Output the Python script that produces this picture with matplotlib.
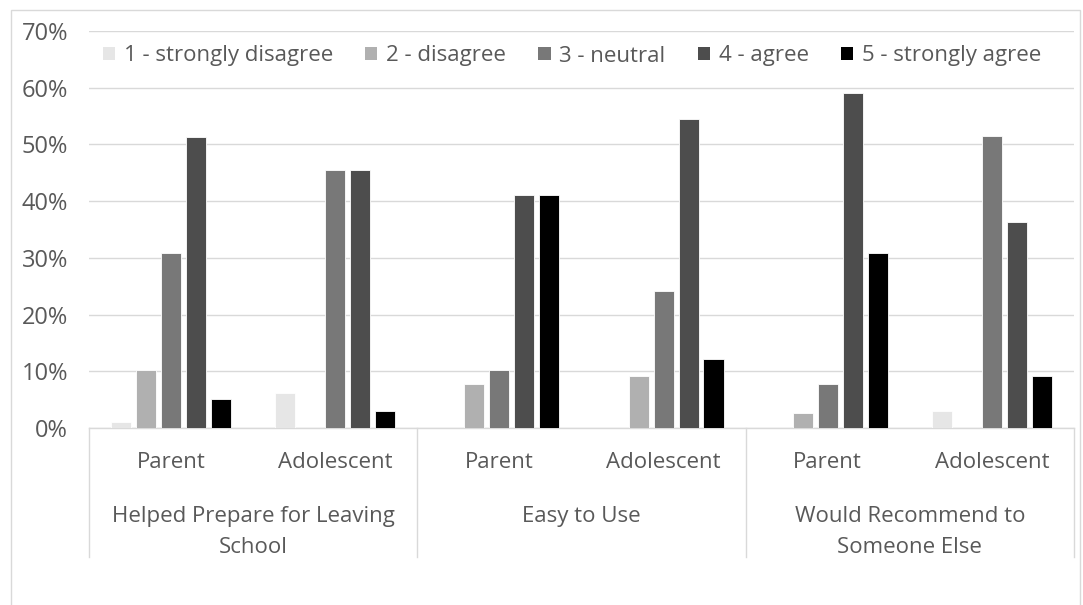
import matplotlib
matplotlib.use("Agg")
import matplotlib.pyplot as plt
from matplotlib.patches import Patch, Rectangle
from matplotlib.lines import Line2D
import numpy as np

plt.rcParams['font.family'] = ['Open Sans', 'DejaVu Sans']

groups = ["Helped Prepare for Leaving\nSchool", "Easy to Use", "Would Recommend to\nSomeone Else"]
respondents = ["Parent", "Adolescent"]
levels = ["1 - strongly disagree", "2 - disagree", "3 - neutral", "4 - agree", "5 - strongly agree"]
colors = ["#e6e6e6", "#b0b0b0", "#787878", "#4d4d4d", "#000000"]

# percentage per response level, ordered as
# (Helped: Parent, Adolescent), (Easy: Parent, Adolescent), (Recommend: Parent, Adolescent)
strongly_disagree = [1.0, 6.1, 0.0, 0.0, 0.0, 3.0]
disagree = [10.3, 0.0, 7.7, 9.1, 2.6, 0.0]
neutral = [30.8, 45.5, 10.3, 24.2, 7.7, 51.5]
agree = [51.3, 45.5, 41.0, 54.5, 59.0, 36.4]
strongly_agree = [5.1, 3.0, 41.0, 12.1, 30.8, 9.1]
series = [strongly_disagree, disagree, neutral, agree, strongly_agree]

W, H = 1083, 605
fig = plt.figure(figsize=(W / 100, H / 100), dpi=100)
ax = fig.add_axes([89 / W, 1 - 428 / H, (1074 - 89) / W, (428 - 31) / H])

text_color = "#595959"
grid_color = "#d9d9d9"
label_size = 16

n_cat = len(respondents) * len(groups)
centers = np.arange(n_cat) + 0.5
pitch = 0.152
width = 0.122
for i, (vals, col) in enumerate(zip(series, colors)):
    ax.bar(centers + (i - 2) * pitch, vals, width=width, color=col,
           edgecolor="white", linewidth=0.6, zorder=3)

ax.set_xlim(0, n_cat)
ax.set_ylim(0, 70)
ax.set_yticks(np.arange(0, 71, 10))
ax.set_yticklabels([f"{v}%" for v in range(0, 71, 10)])
ax.tick_params(axis="y", length=0, pad=15, labelsize=17, labelcolor=text_color)
ax.set_xticks([])
ax.yaxis.grid(True, color=grid_color, linewidth=1.0, zorder=0)
for s in ["top", "right", "left"]:
    ax.spines[s].set_visible(False)
ax.spines["bottom"].set_color(grid_color)
ax.spines["bottom"].set_linewidth(1.0)

# hierarchical category labels below the axis
trans = ax.get_xaxis_transform()
span = 428 - 31
sub_y = -(463 - 428) / span
grp_top = -(506 - 428) / span
sep_bottom = -(557 - 428) / span
for k, c in enumerate(centers):
    ax.text(c, sub_y, respondents[k % 2], transform=trans, ha="center", va="center",
            fontsize=label_size, color=text_color)
for g, name in enumerate(groups):
    ax.text(2 * g + 1, grp_top, name, transform=trans, ha="center", va="top",
            fontsize=label_size, color=text_color, linespacing=1.6)
for xs in range(0, n_cat + 1, 2):
    ax.add_line(Line2D([xs, xs], [0, sep_bottom], transform=trans, color=grid_color,
                       linewidth=1.0, clip_on=False))

handles = [Patch(facecolor=c, edgecolor="none") for c in colors]
fig.legend(handles, levels, loc="center", bbox_to_anchor=(572 / W, 1 - 56 / H),
           ncol=5, frameon=False, fontsize=label_size, labelcolor=text_color,
           handlelength=0.55, handleheight=0.55, handletextpad=0.4, columnspacing=1.45)

fig.patches.append(Rectangle((11 / W, -0.01), (1080 - 11) / W, 1 - 10 / H + 0.01,
                             transform=fig.transFigure, fill=False,
                             edgecolor=grid_color, linewidth=1.0))

fig.savefig("out.png", dpi=100, facecolor="white")
